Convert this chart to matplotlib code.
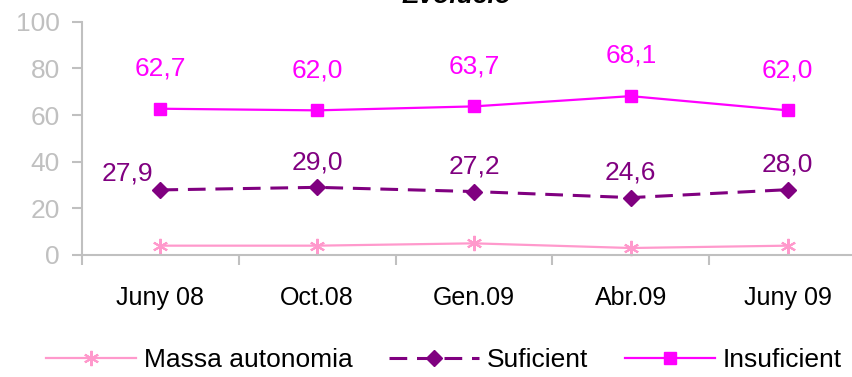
import matplotlib
matplotlib.use("Agg")
import matplotlib.pyplot as plt

plt.rcParams['font.family'] = ['Liberation Sans', 'DejaVu Sans']

categories = ["Juny 08", "Oct.08", "Gen.09", "Abr.09", "Juny 09"]
massa_autonomia = [4.0, 4.0, 5.0, 3.0, 4.0]
suficient = [27.9, 29.0, 27.2, 24.6, 28.0]
insuficient = [62.7, 62.0, 63.7, 68.1, 62.0]
insuf_labels = ["62,7", "62,0", "63,7", "68,1", "62,0"]
suf_labels = ["27,9", "29,0", "27,2", "24,6", "28,0"]
title = "Evolució"

C_PINK = "#FF99CC"
C_PURPLE = "#800080"
C_MAGENTA = "#FF00FF"
C_GRAY = "#C0C0C0"

FS = 19

fig = plt.figure(figsize=(8.53, 3.77), dpi=100)
ax = fig.add_axes([82/853, 1 - 255/377, (866-82)/853, (255-21.7)/377])

x = list(range(len(categories)))
asterisk = (6, 2, 0)
l1, = ax.plot(x, massa_autonomia, color=C_PINK, lw=1.6, marker=asterisk,
              markersize=11, markeredgewidth=1.5, label="Massa autonomia", clip_on=False)
l2, = ax.plot(x, suficient, color=C_PURPLE, lw=2.2, ls=(0, (5.8, 3.2)), marker='D',
              markersize=8.5, label="Suficient", clip_on=False)
l3, = ax.plot(x, insuficient, color=C_MAGENTA, lw=1.6, marker='s',
              markersize=8.5, label="Insuficient", clip_on=False)

for i, (v, t) in enumerate(zip(insuficient, insuf_labels)):
    ax.annotate(t, (i, v), xytext=(0, 29), textcoords='offset points',
                ha='center', va='center', color=C_MAGENTA, fontsize=FS)
for i, (v, t) in enumerate(zip(suficient, suf_labels)):
    if i == 0:
        off = (-24, 12)
    else:
        off = (0, 18)
    ax.annotate(t, (i, v), xytext=off, textcoords='offset points',
                ha='center', va='center', color=C_PURPLE, fontsize=FS)

ax.set_xlim(-0.5, len(categories) - 0.5)
ax.set_ylim(0, 100)
ax.set_yticks(range(0, 101, 20))
ax.set_xticks(x)
ax.set_xticklabels(categories, fontsize=18)
ax.set_xticks([i - 0.5 for i in range(len(categories) + 1)], minor=True)
ax.tick_params(axis='x', which='major', length=0, pad=22)
ax.tick_params(axis='x', which='minor', length=7, width=1.5, color=C_GRAY)
ax.tick_params(axis='y', length=7, width=1.5, color=C_GRAY, labelcolor="#C0C0C0",
               labelsize=FS, pad=9)

for s in ['top', 'right']:
    ax.spines[s].set_visible(False)
for s in ['left', 'bottom']:
    ax.spines[s].set_color(C_GRAY)
    ax.spines[s].set_linewidth(1.5)

fig.text(457/853, 1 - 3/377, title, ha='center', va='baseline', fontsize=FS,
         fontweight='bold', fontstyle='italic')

leg = fig.legend(handles=[l1, l2, l3], loc='center', bbox_to_anchor=(444/853, 1 - 360/377),
                 ncol=3, frameon=False, fontsize=FS, handlelength=3.4,
                 handletextpad=0.3, columnspacing=1.4)

fig.savefig("out.png", dpi=100)
